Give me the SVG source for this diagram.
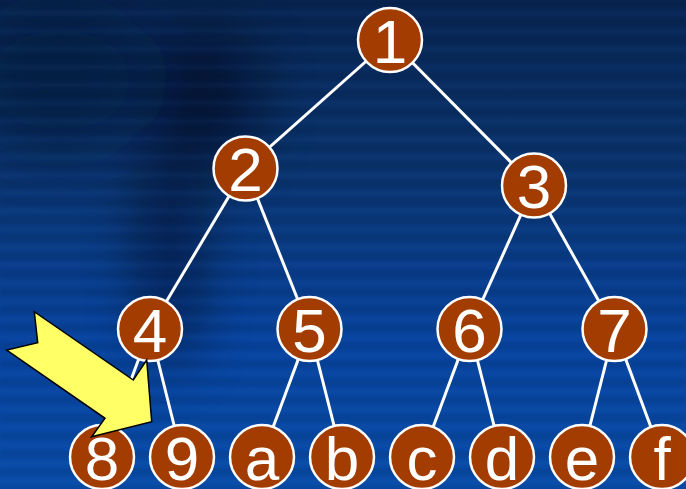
<svg xmlns="http://www.w3.org/2000/svg" width="686" height="489" viewBox="0 0 686 489">
  <defs>
    <linearGradient id="bg" x1="0" y1="0" x2="0" y2="1">
      <stop offset="0" stop-color="#072552"/>
      <stop offset="0.35" stop-color="#0a346f"/>
      <stop offset="0.7" stop-color="#0744a0"/>
      <stop offset="1" stop-color="#084ca8"/>
    </linearGradient>
    <pattern id="stripes" x="0" y="0" width="686" height="18" patternUnits="userSpaceOnUse">
      <rect x="0" y="0" width="686" height="8" fill="#000" opacity="0.08"/>
      <rect x="0" y="11" width="686" height="4" fill="#3a7ad0" opacity="0.05"/>
    </pattern>
    <filter id="blur" x="-50%" y="-50%" width="200%" height="200%">
      <feGaussianBlur stdDeviation="28"/>
    </filter>
    <filter id="soft" x="0" y="0" width="100%" height="100%">
      <feGaussianBlur stdDeviation="1.5"/>
    </filter>
    <style>
      .edge { stroke: #ffffff; stroke-width: 3; fill: none; }
      .node circle { fill: #a33c00; stroke: #ffffff; stroke-width: 2.5; }
      .node text { fill: #ffffff; font-family: "Liberation Sans", Arial, sans-serif; font-size: 62px; text-anchor: middle; }
    </style>
  </defs>

  <g id="background">
    <rect x="0" y="0" width="686" height="489" fill="url(#bg)"/>
    <g filter="url(#blur)" opacity="0.5">
      <ellipse cx="205" cy="100" rx="55" ry="70" fill="#00040c"/>
      <ellipse cx="170" cy="250" rx="28" ry="120" fill="#00040c"/>
      <ellipse cx="60" cy="80" rx="90" ry="70" fill="#031430"/>
    </g>
    <rect x="0" y="0" width="686" height="489" fill="url(#stripes)" filter="url(#soft)"/>
  </g>

  <g id="connectors">
    <line class="edge" x1="390" y1="40" x2="245.5" y2="168.5"/>
    <line class="edge" x1="390" y1="40" x2="534" y2="185.5"/>
    <line class="edge" x1="245.5" y1="168.5" x2="150" y2="329"/>
    <line class="edge" x1="245.5" y1="168.5" x2="309.5" y2="329"/>
    <line class="edge" x1="534" y1="185.5" x2="469.5" y2="329"/>
    <line class="edge" x1="534" y1="185.5" x2="614.5" y2="329"/>
    <line class="edge" x1="150" y1="329" x2="102" y2="457"/>
    <line class="edge" x1="150" y1="329" x2="182" y2="457"/>
    <line class="edge" x1="309.5" y1="329" x2="262" y2="457"/>
    <line class="edge" x1="309.5" y1="329" x2="342" y2="457"/>
    <line class="edge" x1="469.5" y1="329" x2="422" y2="457"/>
    <line class="edge" x1="469.5" y1="329" x2="502" y2="457"/>
    <line class="edge" x1="614.5" y1="329" x2="582" y2="457"/>
    <line class="edge" x1="614.5" y1="329" x2="662" y2="457"/>
  </g>

  <g id="node-1" class="node"><circle cx="390" cy="40" r="32"/><text x="390" y="63">1</text></g>
  <g id="node-2" class="node"><circle cx="245.5" cy="168.5" r="32"/><text x="245.5" y="191">2</text></g>
  <g id="node-3" class="node"><circle cx="534" cy="185.5" r="32"/><text x="534" y="208">3</text></g>
  <g id="node-4" class="node"><circle cx="150" cy="329" r="32"/><text x="150" y="352">4</text></g>
  <g id="node-5" class="node"><circle cx="309.5" cy="329" r="32"/><text x="309.5" y="352">5</text></g>
  <g id="node-6" class="node"><circle cx="469.5" cy="329" r="32"/><text x="469.5" y="352">6</text></g>
  <g id="node-7" class="node"><circle cx="614.5" cy="329" r="32"/><text x="614.5" y="352">7</text></g>
  <g id="node-8" class="node"><circle cx="102" cy="457" r="32"/><text x="102" y="480">8</text></g>
  <g id="node-9" class="node"><circle cx="182" cy="457" r="32"/><text x="182" y="480">9</text></g>
  <g id="node-a" class="node"><circle cx="262" cy="457" r="32"/><text x="262" y="480">a</text></g>
  <g id="node-b" class="node"><circle cx="342" cy="457" r="32"/><text x="342" y="480">b</text></g>
  <g id="node-c" class="node"><circle cx="422" cy="457" r="32"/><text x="422" y="480">c</text></g>
  <g id="node-d" class="node"><circle cx="502" cy="457" r="32"/><text x="502" y="480">d</text></g>
  <g id="node-e" class="node"><circle cx="582" cy="457" r="32"/><text x="582" y="480">e</text></g>
  <g id="node-f" class="node"><circle cx="662" cy="457" r="32"/><text x="662" y="480">f</text></g>

  <g id="arrow">
    <polygon points="34.3,311.7 37.7,342.7 6.7,350 105,418.3 91.7,436.7 151.7,421.7 146.7,360 133.3,380" fill="#ffff66" stroke="#000000" stroke-width="1.5" stroke-linejoin="miter"/>
  </g>
</svg>
